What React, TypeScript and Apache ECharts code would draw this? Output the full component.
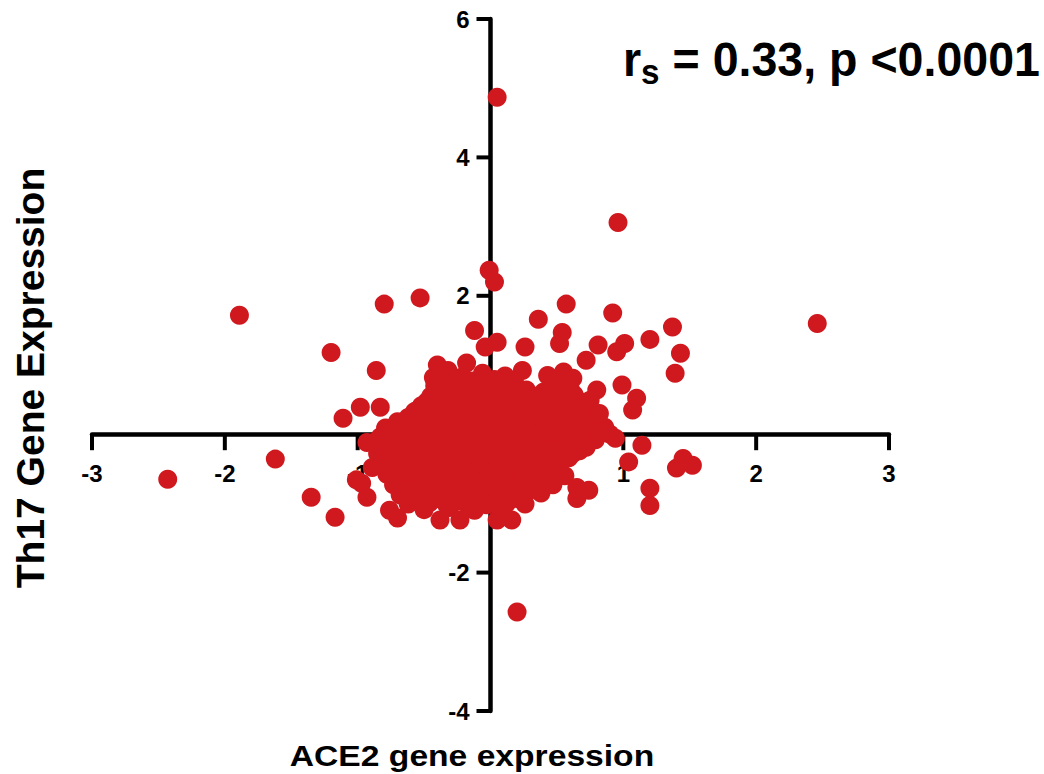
import React, { useEffect, useRef } from "react";
import * as echarts from "echarts";

// Axis ticks
const xTicks = [-3, -2, -1, 0, 1, 2, 3];
const yTicks = [-4, -2, 0, 2, 4, 6];

// Outlying / peripheral points [ACE2, Th17]
const peripheryPoints: [number, number][] = [
  [0.05, 4.87], [0.96, 3.06], [2.46, 1.6], [-1.89, 1.72], [-2.43, -0.65],
  [-1.62, -0.36], [-1.35, -0.91], [-1.17, -1.2], [0.2, -2.57], [-1.2, 1.18],
  [-0.8, 1.88], [-0.53, 1.97], [-0.01, 2.37], [0.03, 2.2],
  [0.57, 1.88], [0.36, 1.66], [0.92, 1.75], [1.37, 1.55], [1.2, 1.37],
  [-0.12, 1.5], [-0.04, 1.26], [0.05, 1.33], [0.54, 1.47], [0.52, 1.31],
  [0.26, 1.26], [0.81, 1.29], [1.01, 1.31], [0.95, 1.19], [0.72, 1.07],
  [1.43, 1.17], [1.39, 0.88], [-0.86, 0.92], [-0.4, 1.0], [-0.32, 0.92],
  [-0.18, 1.03], [-0.43, 0.82], [0.99, 0.71], [1.1, 0.52], [1.07, 0.35],
  [0.8, 0.64], [0.75, 0.49], [0.82, 0.3], [0.58, 0.74], [0.62, 0.81],
  [-0.98, 0.39], [-0.83, 0.39], [-1.11, 0.23], [-0.93, -0.12], [-0.74, 0.03],
  [-0.97, -0.71], [-0.89, -0.48], [-1.01, -0.66], [-0.93, -0.91], [-0.76, -1.1],
  [-0.7, -1.21], [-0.38, -1.24], [-0.23, -1.24], [0.05, -1.24], [0.16, -1.24],
  [0.65, -0.77], [0.74, -0.81], [0.65, -0.93], [1.04, -0.4], [1.14, -0.16],
  [1.2, -0.78], [1.2, -1.03], [1.45, -0.35], [1.52, -0.45], [1.4, -0.49],
  [0.94, -0.06], [0.84, 0.03], [0.72, -0.19],
];

// Dense central cluster [ACE2, Th17]
const corePoints: [number, number][] = [
  [-0.35, 0.86], [-0.21, 0.83], [-0.06, 0.88], [0.11, 0.84], [0.24, 0.92], [0.43, 0.85], [0.55, 0.9],
  [-0.42, 0.78], [-0.28, 0.8], [-0.13, 0.77], [0.03, 0.79], [0.18, 0.78], [0.5, 0.77],
  [-0.42, 0.7], [-0.3, 0.68], [-0.16, 0.73], [-0.01, 0.69], [0.13, 0.72], [0.2, 0.6], [0.47, 0.69], [0.6, 0.66],
  [-0.38, 0.63], [-0.23, 0.61], [-0.08, 0.64], [0.07, 0.6], [0.27, 0.64], [0.4, 0.61], [0.54, 0.63],
  [-0.45, 0.55], [-0.34, 0.57], [-0.24, 0.53], [-0.11, 0.56], [0.04, 0.52], [0.19, 0.45], [0.34, 0.55], [0.48, 0.52], [0.63, 0.57],
  [-0.48, 0.47], [-0.33, 0.49], [-0.18, 0.46], [-0.04, 0.49], [0.11, 0.47], [0.26, 0.5], [0.41, 0.46], [0.56, 0.49], [0.7, 0.46],
  [-0.52, 0.41], [-0.4, 0.38], [-0.29, 0.42], [-0.16, 0.37], [-0.01, 0.43], [0.14, 0.35], [0.28, 0.4], [0.42, 0.37], [0.55, 0.42], [0.67, 0.36],
  [-0.57, 0.33], [-0.44, 0.31], [-0.3, 0.34], [-0.17, 0.31], [-0.03, 0.33], [0.11, 0.3], [0.26, 0.33], [0.43, 0.31], [0.58, 0.33], [0.71, 0.3],
  [-0.62, 0.24], [-0.5, 0.27], [-0.38, 0.22], [-0.26, 0.26], [-0.11, 0.23], [0.04, 0.27], [0.19, 0.22], [0.35, 0.26], [0.5, 0.23], [0.63, 0.27], [0.76, 0.21],
  [-0.7, 0.18], [-0.55, 0.16], [-0.4, 0.18], [-0.26, 0.15], [-0.11, 0.18], [0.03, 0.16], [0.18, 0.18], [0.32, 0.15], [0.47, 0.17], [0.62, 0.15], [0.78, 0.18],
  [-0.79, 0.09], [-0.63, 0.12], [-0.48, 0.08], [-0.33, 0.11], [-0.18, 0.07], [-0.04, 0.12], [0.1, 0.08], [0.25, 0.11], [0.4, 0.07], [0.55, 0.12], [0.7, 0.08], [0.86, 0.1],
  [-0.76, 0.03], [-0.6, 0.01], [-0.45, 0.04], [-0.3, 0.01], [-0.15, 0.03], [0.0, 0.0], [0.14, 0.03], [0.28, 0.01], [0.43, 0.04], [0.57, 0.01], [0.72, 0.03], [0.9, 0.0],
  [-0.83, -0.04], [-0.68, -0.07], [-0.53, -0.03], [-0.38, -0.06], [-0.22, -0.02], [-0.08, -0.07], [0.06, -0.04], [0.21, -0.06], [0.35, -0.03], [0.5, -0.07], [0.64, -0.04], [0.79, -0.08],
  [-0.88, -0.12], [-0.73, -0.13], [-0.6, -0.11], [-0.45, -0.13], [-0.3, -0.11], [-0.15, -0.14], [0.0, -0.11], [0.14, -0.13], [0.28, -0.11], [0.43, -0.14], [0.57, -0.11], [0.72, -0.12],
  [-0.8, -0.21], [-0.65, -0.18], [-0.5, -0.22], [-0.35, -0.19], [-0.2, -0.23], [-0.05, -0.18], [0.1, -0.21], [0.25, -0.17], [0.4, -0.22], [0.55, -0.19], [0.67, -0.24],
  [-0.85, -0.28], [-0.7, -0.26], [-0.56, -0.29], [-0.42, -0.26], [-0.27, -0.28], [-0.12, -0.25], [0.03, -0.28], [0.18, -0.26], [0.33, -0.29], [0.48, -0.26], [0.62, -0.28],
  [-0.76, -0.36], [-0.61, -0.33], [-0.45, -0.37], [-0.3, -0.34], [-0.15, -0.38], [0.0, -0.33], [0.15, -0.36], [0.3, -0.32], [0.45, -0.37], [0.59, -0.34],
  [-0.8, -0.43], [-0.66, -0.41], [-0.52, -0.44], [-0.37, -0.41], [-0.22, -0.43], [-0.07, -0.41], [0.08, -0.44], [0.22, -0.41], [0.37, -0.43], [0.52, -0.41],
  [-0.71, -0.51], [-0.55, -0.48], [-0.4, -0.52], [-0.25, -0.49], [-0.1, -0.53], [0.05, -0.48], [0.2, -0.51], [0.35, -0.47], [0.5, -0.52],
  [-0.78, -0.58], [-0.63, -0.56], [-0.47, -0.59], [-0.32, -0.56], [-0.17, -0.58], [-0.02, -0.56], [0.13, -0.59], [0.28, -0.56], [0.43, -0.58], [0.56, -0.6],
  [-0.66, -0.66], [-0.5, -0.63], [-0.35, -0.67], [-0.2, -0.64], [-0.05, -0.68], [0.1, -0.63], [0.25, -0.66], [0.41, -0.62],
  [-0.73, -0.73], [-0.58, -0.71], [-0.42, -0.74], [-0.27, -0.71], [-0.12, -0.73], [0.03, -0.71], [0.18, -0.74], [0.33, -0.71], [0.47, -0.73],
  [-0.61, -0.81], [-0.45, -0.78], [-0.3, -0.82], [-0.15, -0.79], [0.0, -0.83], [0.15, -0.78], [0.31, -0.8],
  [-0.68, -0.88], [-0.52, -0.86], [-0.37, -0.89], [-0.22, -0.86], [-0.07, -0.88], [0.08, -0.86], [0.24, -0.88], [0.38, -0.85],
  [-0.56, -0.96], [-0.4, -0.93], [-0.25, -0.97], [-0.1, -0.94], [0.05, -0.97], [0.2, -0.93],
  [-0.62, -1.01], [-0.46, -0.99], [-0.33, -1.02], [-0.18, -1.0], [-0.03, -1.02], [0.12, -1.0], [0.26, -1.01],
  [-0.5, -1.09], [-0.31, -1.06], [-0.12, -1.1], [0.08, -1.07],
];

const statText = "{r|r}{s|s}{r| = 0.33, p <0.0001}";
const xTitle = "ACE2 gene expression";
const yTitle = "Th17 Gene Expression";

const FONT = "'Liberation Sans', Arial, Helvetica, sans-serif";
const DOT = "#d0191f";

// Layout (pixels)
const GRID = { left: 92, right: 155, top: 19, bottom: 63 };
const W = 1044;
const H = 774;
const X_TICK_LEN = 16;
const Y_TICK_LEN = 14;

export default function App() {
  const ref = useRef<HTMLDivElement>(null);
  useEffect(() => {
    if (!ref.current) return;
    const chart = echarts.init(ref.current, null, { renderer: "svg" });
    const hideZero = (v: number) => (v === 0 ? "" : String(v));
    const xMin = xTicks[0];
    const xMax = xTicks[xTicks.length - 1];
    const yMin = yTicks[0];
    const yMax = yTicks[yTicks.length - 1];
    const gw = W - GRID.left - GRID.right;
    const gh = H - GRID.top - GRID.bottom;
    // shift axes so they cross at the origin
    const xAxisOffset = -(gh * (0 - yMin)) / (yMax - yMin);
    const yAxisOffset = -(gw * (0 - xMin)) / (xMax - xMin);
    chart.setOption({
      animation: false,
      backgroundColor: "#fff",
      grid: { ...GRID, containLabel: false },
      xAxis: {
        type: "value",
        min: xMin,
        max: xMax,
        interval: 1,
        position: "bottom",
        offset: xAxisOffset,
        axisLine: { onZero: false, lineStyle: { color: "#000", width: 4.5 } },
        axisTick: { show: false },
        axisLabel: {
          formatter: hideZero,
          color: "#000",
          fontSize: 24,
          fontWeight: "bold",
          fontFamily: FONT,
          margin: 27,
        },
        splitLine: { show: false },
      },
      yAxis: {
        type: "value",
        min: yMin,
        max: yMax,
        interval: 2,
        position: "left",
        offset: yAxisOffset,
        axisLine: { onZero: false, lineStyle: { color: "#000", width: 4.5 } },
        axisTick: { show: false },
        axisLabel: {
          formatter: hideZero,
          color: "#000",
          fontSize: 24,
          fontWeight: "bold",
          fontFamily: FONT,
          margin: 21,
        },
        splitLine: { show: false },
      },
      series: [
        {
          // x-axis tick marks, placed through the axis scale
          type: "custom",
          silent: true,
          clip: false,
          z: 1,
          data: xTicks.filter((v) => v !== 0).map((v) => [v, 0]),
          renderItem: (_p: any, api: any) => {
            const c = api.coord([api.value(0), api.value(1)]);
            return {
              type: "line",
              shape: { x1: c[0], y1: c[1], x2: c[0], y2: c[1] + X_TICK_LEN },
              style: { stroke: "#000", lineWidth: 4 },
            };
          },
        },
        {
          // y-axis tick marks, placed through the axis scale
          type: "custom",
          silent: true,
          clip: false,
          z: 1,
          data: yTicks.filter((v) => v !== 0).map((v) => [0, v]),
          renderItem: (_p: any, api: any) => {
            const c = api.coord([api.value(0), api.value(1)]);
            return {
              type: "line",
              shape: { x1: c[0] - Y_TICK_LEN, y1: c[1], x2: c[0], y2: c[1] },
              style: { stroke: "#000", lineWidth: 4 },
            };
          },
        },
        {
          type: "scatter",
          data: corePoints,
          symbol: "circle",
          symbolSize: 19,
          itemStyle: { color: DOT, opacity: 1 },
          z: 3,
        },
        {
          type: "scatter",
          data: peripheryPoints,
          symbol: "circle",
          symbolSize: 19,
          itemStyle: { color: DOT, opacity: 1 },
          z: 3,
        },
      ],
      graphic: [
        {
          type: "text",
          x: 623,
          y: 29,
          scaleX: 0.95,
          style: {
            text: statText,
            verticalAlign: "top",
            align: "left",
            rich: {
              r: { fontSize: 49, fontWeight: "bold", fontFamily: FONT, fill: "#000", lineHeight: 60, verticalAlign: "middle" },
              s: { fontSize: 35, fontWeight: "bold", fontFamily: FONT, fill: "#000", lineHeight: 35, verticalAlign: "bottom" },
            },
          },
        },
        {
          type: "text",
          x: 472,
          y: 756,
          scaleX: 1.16,
          style: {
            text: xTitle,
            fontSize: 29,
            fontWeight: "bold",
            fontFamily: FONT,
            fill: "#000",
            align: "center",
            verticalAlign: "middle",
          },
        },
        {
          type: "text",
          x: 30,
          y: 378,
          rotation: Math.PI / 2,
          style: {
            text: yTitle,
            fontSize: 39,
            fontWeight: "bold",
            fontFamily: FONT,
            fill: "#000",
            align: "center",
            verticalAlign: "middle",
          },
        },
      ],
    });
    return () => chart.dispose();
  }, []);
  return (
    <div
      ref={ref}
      style={{ position: "fixed", left: 0, top: 0, width: W, height: H, background: "#fff" }}
    />
  );
}
